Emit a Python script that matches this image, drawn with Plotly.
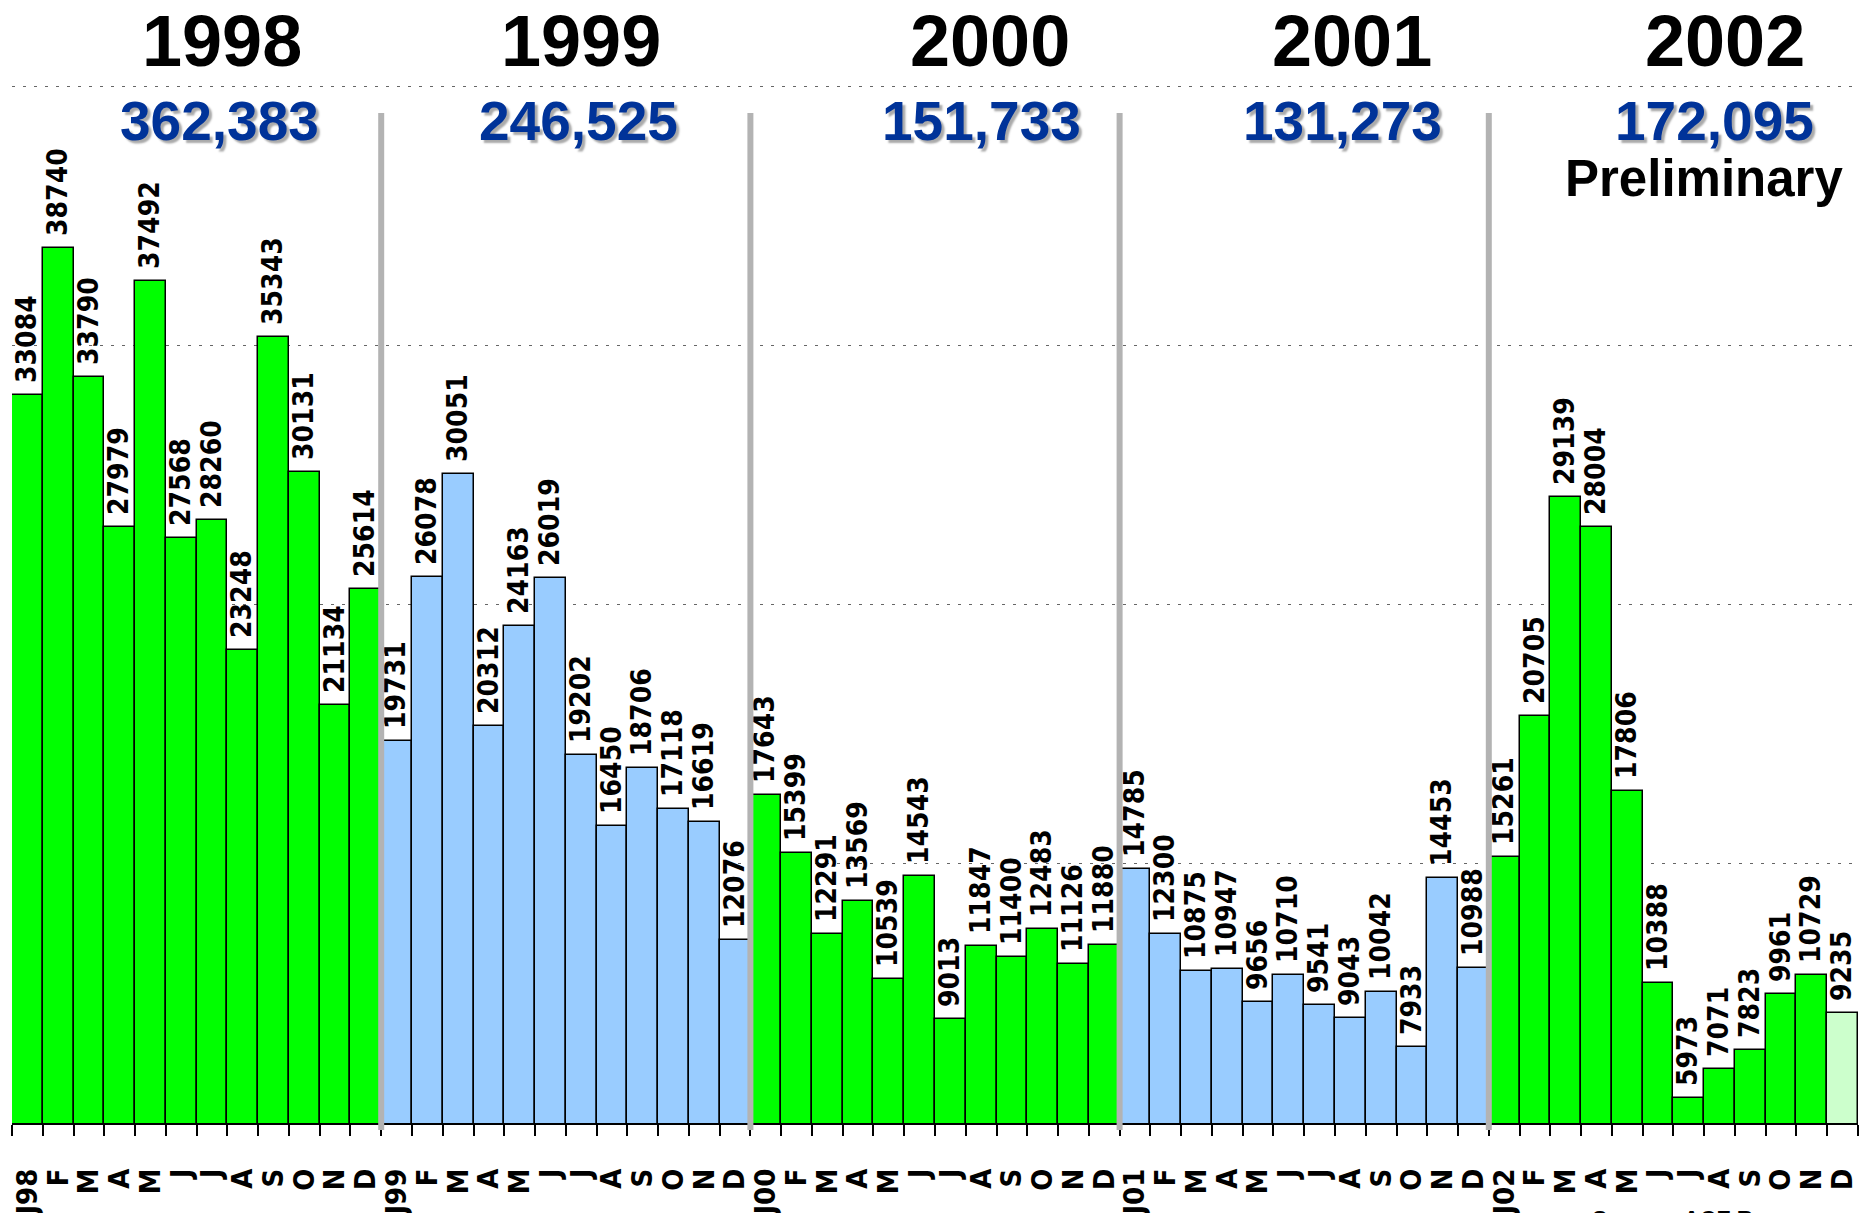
import plotly.graph_objects as go

# ---------------- data ----------------
years = ["1998", "1999", "2000", "2001", "2002"]
months = ["J", "F", "M", "A", "M", "J", "J", "A", "S", "O", "N", "D"]

values_1998 = [33084, 38740, 33790, 27979, 37492, 27568, 28260, 23248, 35343, 30131, 21134, 25614]
values_1999 = [19731, 26078, 30051, 20312, 24163, 26019, 19202, 16450, 18706, 17118, 16619, 12076]
values_2000 = [17643, 15399, 12291, 13569, 10539, 14543, 9013, 11847, 11400, 12483, 11126, 11880]
values_2001 = [14785, 12300, 10875, 10947, 9656, 10710, 9541, 9043, 10042, 7933, 14453, 10988]
values_2002 = [15261, 20705, 29139, 28004, 17806, 10388, 5973, 7071, 7823, 9961, 10729, 9235]

yearly_values = [values_1998, values_1999, values_2000, values_2001, values_2002]

# ---------------- styles ----------------
year_colors = ["#00ff00", "#99ccff", "#00ff00", "#99ccff", "#00ff00"]
preliminary_color = "#ccffcc"
total_color = "#003399"
sep_color = "#b3b3b3"
FONT = "Liberation Sans, Arial, sans-serif"
COND_FONT = "DejaVu Sans Condensed, DejaVu Sans, Verdana, sans-serif"

# text positions (in bar-index units)
year_title_x = [6.34, 18.0, 31.3, 43.05, 55.18]
total_x = [6.25, 17.9, 31.0, 42.74, 54.85]

# ---------------- build series ----------------
values, labels, colors = [], [], []
for yi, (yr, vals) in enumerate(zip(years, yearly_values)):
    for mi, v in enumerate(vals):
        values.append(v)
        labels.append(months[mi] + (yr[2:] if mi == 0 else ""))
        colors.append(year_colors[yi])
colors[-1] = preliminary_color
x = list(range(len(values)))

fig = go.Figure()
fig.add_trace(go.Bar(
    x=x, y=values,
    marker=dict(color=colors, line=dict(color="black", width=1.5)),
    text=["\u2004" + str(v) for v in values],
    textposition="outside",
    textangle=-90,
    constraintext="none",
    cliponaxis=False,
    textfont=dict(family=COND_FONT, size=28, color="black", weight="bold"),
    outsidetextfont=dict(family=COND_FONT, size=28, color="black", weight="bold"),
    hoverinfo="skip",
))

n_per_year = len(months)
# year separators
for k in range(1, len(years)):
    xb = k * n_per_year - 0.5
    fig.add_shape(type="line", xref="x", yref="paper", x0=xb, x1=xb, y0=-0.0067, y1=0.9693,
                  line=dict(color=sep_color, width=6), layer="above")

annotations = []
for yi, yr in enumerate(years):
    annotations.append(dict(x=year_title_x[yi], y=1.0790, xref="x", yref="paper",
                            text=yr, showarrow=False, xanchor="center", yanchor="top",
                            font=dict(family=FONT, size=72, color="black", weight="bold")))
    annotations.append(dict(x=total_x[yi], y=0.9619, xref="x", yref="paper",
                            text=f"{sum(yearly_values[yi]):,}", showarrow=False,
                            xanchor="center", yanchor="middle",
                            font=dict(family=FONT, size=55, color=total_color, weight="bold",
                                      shadow="3px 3px 2px #aaaaaa")))
annotations.append(dict(x=54.5, y=0.9061, xref="x", yref="paper", text="Preliminary",
                        showarrow=False, xanchor="center", yanchor="middle",
                        font=dict(family=FONT, size=51, color="black", weight="bold")))
annotations.append(dict(x=0.8548, y=-0.0787, xref="paper", yref="paper",
                        text="Source: ACF Bureau", showarrow=False,
                        xanchor="left", yanchor="top",
                        font=dict(family=FONT, size=23, color="black", weight="bold")))

fig.update_layout(
    width=1865, height=1213,
    margin=dict(l=12, r=7, t=81, b=90, autoexpand=False),
    paper_bgcolor="white", plot_bgcolor="white",
    bargap=0, showlegend=False,
    annotations=annotations,
    xaxis=dict(
        range=[-0.5, len(values) - 0.5],
        tickmode="array", tickvals=x, ticktext=labels,
        tickangle=-90, ticks="", ticklabelstandoff=32,
        tickfont=dict(family=COND_FONT, size=29, color="black", weight="bold"),
        showline=True, linecolor="black", linewidth=2,
        showgrid=False, zeroline=False, automargin=False,
        minor=dict(tickmode="array", tickvals=[i - 0.5 for i in range(len(values) + 1)],
                   ticks="outside", ticklen=11, tickcolor="black", tickwidth=1.5, showgrid=False),
    ),
    yaxis=dict(
        range=[5000, 45200], tick0=5000, dtick=10000,
        showticklabels=False, ticks="", zeroline=False, automargin=False,
        showgrid=True, gridcolor="#666666", gridwidth=1, griddash="3px,8px",
    ),
)

fig.write_html("out.html", config={"displayModeBar": False},
               post_script="document.body.style.margin='0';")
